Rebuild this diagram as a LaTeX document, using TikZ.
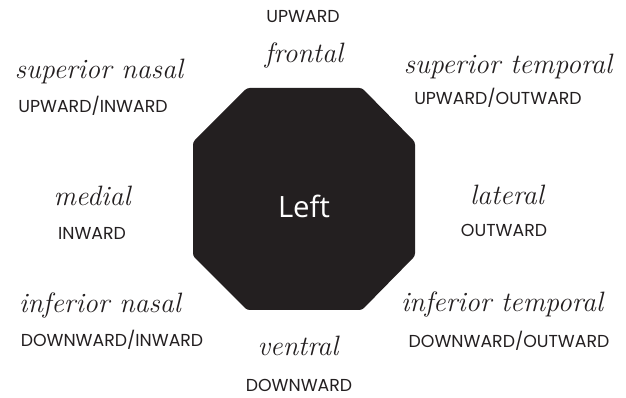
\documentclass[tikz,border=0pt]{standalone}
\usepackage{fontspec}
\newfontfamily\capsfont{Poppins}
\newfontfamily\centerfont{Open Sans}
\definecolor{inkblack}{RGB}{35,31,32}
\tikzset{
  script label/.style={inner sep=0.75pt, text=inkblack, font=\itshape\fontsize{21}{21}\selectfont},
  caps label/.style={inner sep=0.75pt, text=inkblack, font=\capsfont\fontsize{13}{13}\selectfont}
}
\begin{document}
\begin{tikzpicture}[x=0.75pt,y=0.75pt,yscale=-1,xscale=1]
\useasboundingbox (0,0) rectangle (626,398);

%Shape: Octagon
\fill [inkblack, rounded corners=2pt] (247,88) -- (362,88) -- (415,142) -- (415,256) -- (362,310) -- (247,310) -- (193,256) -- (193,142) -- cycle ;
\coordinate (eye) at (304,199);

% Text Node
\node (left) [text=white, inner sep=0.75pt, font=\centerfont\fontsize{22}{22}\selectfont] at (304,206) {Left};
% Text Node
\node (up) [caps label] at (303,17) {UPWARD};
% Text Node
\node (frontal) [script label] at (304,56) {frontal};
% Text Node
\node (supnasal) [script label] at (99,72) {superior nasal};
% Text Node
\node (upin) [caps label] at (93,106) {UPWARD/INWARD};
% Text Node
\node (suptemp) [script label] at (508,67) {superior temporal};
% Text Node
\node (upout) [caps label] at (498,98) {UPWARD/OUTWARD};
% Text Node
\node (medial) [script label] at (92,196) {medial};
% Text Node
\node (in) [caps label] at (92,233) {INWARD};
% Text Node
\node (lateral) [script label] at (507,195) {lateral};
% Text Node
\node (out) [caps label] at (504,230) {OUTWARD};
% Text Node
\node (infnasal) [script label] at (100,306) {inferior nasal};
% Text Node
\node (downin) [caps label] at (112,340) {DOWNWARD/INWARD};
% Text Node
\node (inftemp) [script label] at (502,305) {inferior temporal};
% Text Node
\node (downout) [caps label] at (509,341) {DOWNWARD/OUTWARD};
% Text Node
\node (ventral) [script label] at (298,346) {ventral};
% Text Node
\node (down) [caps label] at (299,385) {DOWNWARD};

\end{tikzpicture}
\end{document}
